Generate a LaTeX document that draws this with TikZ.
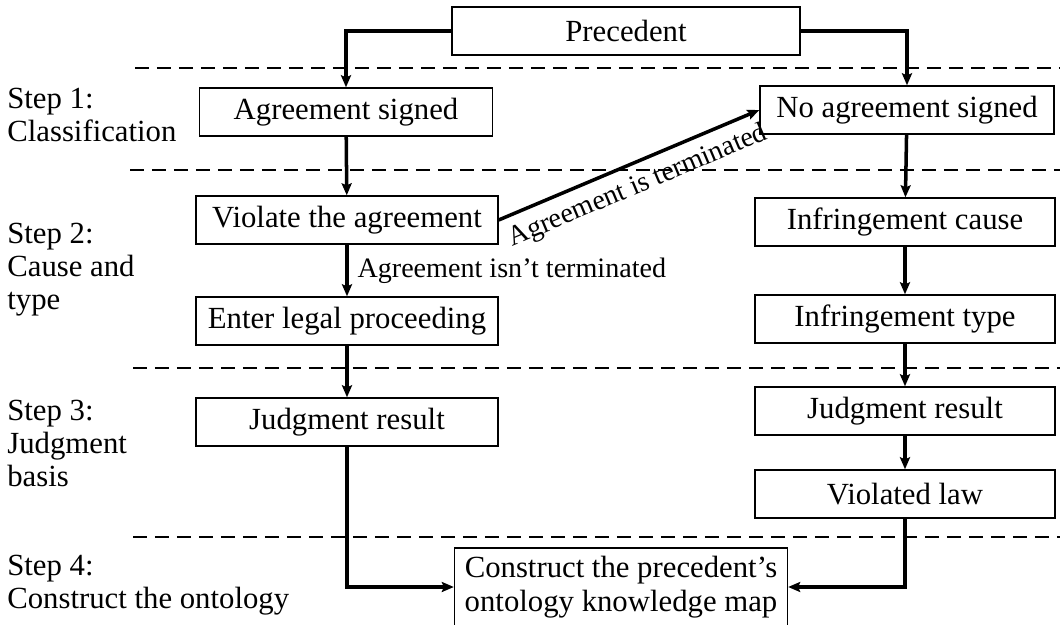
\documentclass[tikz,border=0pt]{standalone}
\usepackage{fontspec}
\setmainfont{Liberation Serif}
\usetikzlibrary{arrows.meta}

\begin{document}
\begin{tikzpicture}[x=0.02cm,y=-0.02cm,
  box/.style={draw,line width=0.8pt,minimum height=0.96cm,inner sep=2pt,
    font=\fontsize{17.5}{19}\selectfont},
  flow/.style={line width=2pt,-{Stealth[length=2.4mm,width=2mm,inset=0.4mm]}},
  sep/.style={line width=0.6pt,dash pattern=on 0.28cm off 0.16cm},
  steplab/.style={anchor=west,align=left,inner sep=0pt,
    font=\fontsize{17.5}{33\dimexpr 0.02cm/1\relax}\selectfont},
  edgelab/.style={font=\fontsize{16}{18}\selectfont,inner sep=2pt}]
\useasboundingbox (0,0) rectangle (1063,625);

% separators between the steps
\draw[sep] (135,68) -- (1060,68);
\draw[sep] (130,170) -- (1060,170);
\draw[sep] (133,368) -- (1060,368);
\draw[sep] (133,537) -- (1060,537);

% step labels
\node[steplab] (s1) at (7,115) {Step 1:\\Classification};
\node[steplab] (s2) at (7,270) {Step 2:\\Cause and\\type};
\node[steplab] (s3) at (7,443) {Step 3:\\Judgment\\basis};
\node[steplab] (s4) at (7,585) {Step 4:\\Construct the ontology};

% boxes
\node[box,minimum width=6.96cm] (prec) at (626,31) {Precedent};
\node[box,minimum width=5.86cm] (agr) at (346,112) {Agreement signed};
\node[box,minimum width=5.88cm] (noagr) at (907,110) {No agreement signed};
\node[box,minimum width=6.04cm] (viol) at (347,220) {Violate the agreement};
\node[box,minimum width=6cm] (cause) at (905,222) {Infringement cause};
\node[box,minimum width=6.04cm] (enter) at (347,321) {Enter legal proceeding};
\node[box,minimum width=6cm] (itype) at (905,319) {Infringement type};
\node[box,minimum width=6.04cm] (judgL) at (347,422) {Judgment result};
\node[box,minimum width=6cm] (judgR) at (905,411) {Judgment result};
\node[box,minimum width=6cm] (law) at (905,494) {Violated law};
\node[box,minimum width=6.66cm,minimum height=1.56cm,align=center] (cons) at (621,587)
  {Construct the precedent's\\ontology knowledge map};

% connectors
\draw[flow] (prec.west) -| (agr.north);
\draw[flow] (prec.east) -| (noagr.north);
\draw[flow] (agr) -- (viol);
\draw[flow] (viol) -- node[edgelab,midway,right,xshift=3pt] {Agreement isn't terminated} (enter);
\draw[flow] (viol.east) -- node[edgelab,midway,below=3pt,sloped] {Agreement is terminated} (noagr.west);
\draw[flow] (enter) -- (judgL);
\draw[flow] (noagr) -- (cause);
\draw[flow] (cause) -- (itype);
\draw[flow] (itype) -- (judgR);
\draw[flow] (judgR) -- (law);
\draw[flow] (judgL.south) |- (cons.west);
\draw[flow] (law.south) |- (cons.east);
\end{tikzpicture}
\end{document}
